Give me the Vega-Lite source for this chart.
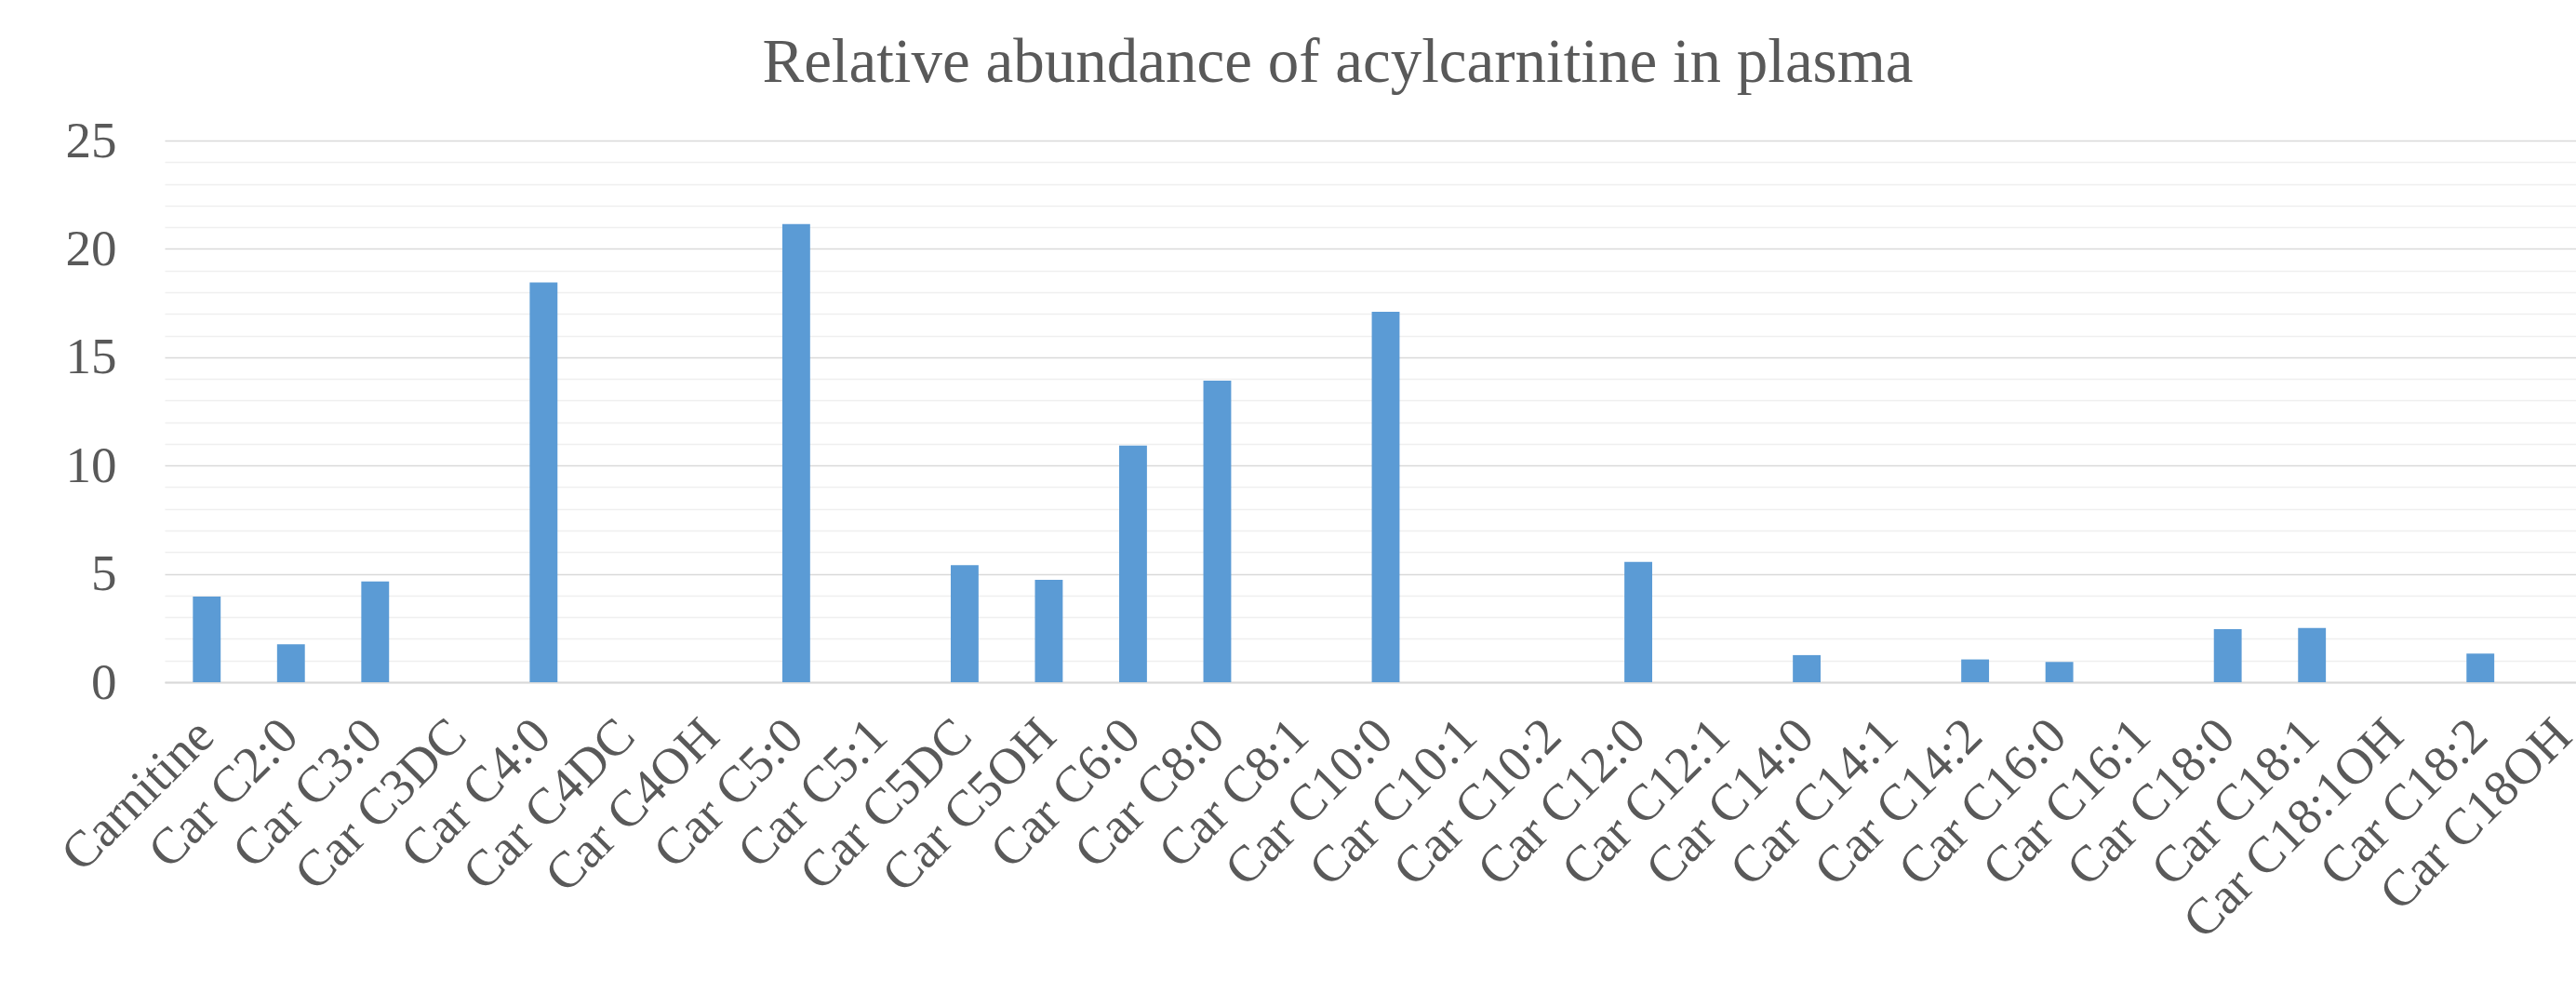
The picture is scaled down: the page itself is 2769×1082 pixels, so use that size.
{
  "$schema": "https://vega.github.io/schema/vega-lite/v6.json",
  "width": 2592,
  "height": 582,
  "autosize": {"type": "none"},
  "padding": {"left": 177, "top": 151, "right": 0, "bottom": 349},
  "background": "white",
  "title": {
    "text": "Relative abundance of acylcarnitine in plasma",
    "font": "Liberation Serif",
    "fontSize": 67,
    "fontWeight": "normal",
    "color": "#595959",
    "anchor": "middle",
    "frame": "group",
    "offset": 22,
    "dx": -35
  },
  "data": {
    "values": [
      {"name": "Carnitine", "value": 3.95},
      {"name": "Car C2:0", "value": 1.75},
      {"name": "Car C3:0", "value": 4.65},
      {"name": "Car C3DC", "value": 0},
      {"name": "Car C4:0", "value": 18.45},
      {"name": "Car C4DC", "value": 0},
      {"name": "Car C4OH", "value": 0},
      {"name": "Car C5:0", "value": 21.15},
      {"name": "Car C5:1", "value": 0},
      {"name": "Car C5DC", "value": 5.4},
      {"name": "Car C5OH", "value": 4.72},
      {"name": "Car C6:0", "value": 10.92},
      {"name": "Car C8:0", "value": 13.92},
      {"name": "Car C8:1", "value": 0},
      {"name": "Car C10:0", "value": 17.1},
      {"name": "Car C10:1", "value": 0},
      {"name": "Car C10:2", "value": 0},
      {"name": "Car C12:0", "value": 5.55},
      {"name": "Car C12:1", "value": 0},
      {"name": "Car C14:0", "value": 1.25},
      {"name": "Car C14:1", "value": 0},
      {"name": "Car C14:2", "value": 1.05},
      {"name": "Car C16:0", "value": 0.93},
      {"name": "Car C16:1", "value": 0},
      {"name": "Car C18:0", "value": 2.45},
      {"name": "Car C18:1", "value": 2.5},
      {"name": "Car C18:1OH", "value": 0},
      {"name": "Car C18:2", "value": 1.32},
      {"name": "Car C18OH", "value": 0}
    ]
  },
  "mark": {"type": "bar", "color": "#5B9BD5"},
  "encoding": {
    "x": {
      "field": "name",
      "type": "nominal",
      "sort": null,
      "scale": {"range": [0, 2625], "paddingInner": 0.67, "paddingOuter": 0.335},
      "axis": {
        "title": null,
        "labelAngle": -45,
        "labelFont": "Liberation Serif",
        "labelFontSize": 55,
        "labelColor": "#595959",
        "labelPadding": 30,
        "labelOffset": -20,
        "labelLimit": 0,
        "ticks": false,
        "domain": true,
        "domainColor": "#D9D9D9",
        "domainWidth": 2,
        "grid": false,
        "labelOverlap": false
      }
    },
    "y": {
      "field": "value",
      "type": "quantitative",
      "scale": {"domain": [0, 25], "nice": false, "zero": true},
      "axis": {
        "title": null,
        "values": [0,1,2,3,4,5,6,7,8,9,10,11,12,13,14,15,16,17,18,19,20,21,22,23,24,25],
        "labelExpr": "datum.value % 5 === 0 ? datum.label : ''",
        "labelFont": "Liberation Serif",
        "labelFontSize": 55,
        "labelColor": "#595959",
        "labelPadding": 52,
        "ticks": false,
        "domain": false,
        "grid": true,
        "gridColor": {"condition": {"test": "datum.value % 5 === 0", "value": "#D9D9D9"}, "value": "#EFEFEF"},
        "gridWidth": 1.5,
        "labelOverlap": false
      }
    }
  },
  "config": {"view": {"stroke": null}}
}
